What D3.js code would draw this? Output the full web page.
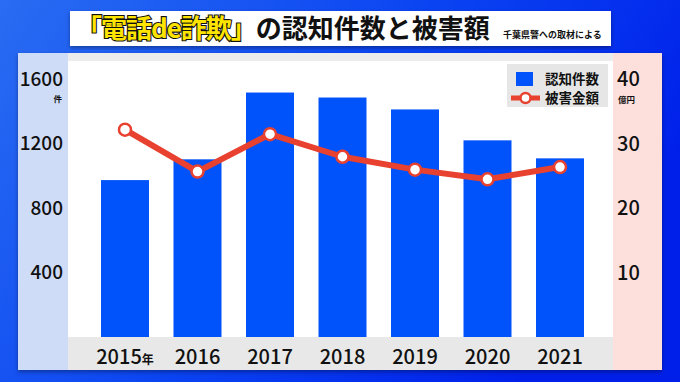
<!DOCTYPE html>
<html>
<head>
<meta charset="utf-8">
<script src="https://cdn.jsdelivr.net/npm/d3@7"></script>
<style>
  body { margin: 0; }
  svg { display: block; font-family: "Noto Sans CJK JP", "Noto Sans", sans-serif; }
</style>
</head>
<body>
<div id="vis"></div>
<script>
const w = 680;
const h = 382;

// data
const years = ['2015', '2016', '2017', '2018', '2019', '2020', '2021'];
const cases = [975, 1104, 1519, 1488, 1414, 1222, 1110];      // 認知件数 (件)
const damage = [32.2, 25.7, 31.5, 28.0, 26.0, 24.5, 26.4];    // 被害金額 (億円)
const leftTicks = [400, 800, 1200, 1600];
const rightTicks = [10, 20, 30, 40];

const panel = ({ left: 18, right: 662, top: 53, bottom: 370 });
const plot = ({ left: 68, right: 613, top: 61, bottom: 337 });

const svg = d3.select('#vis')
    .append('svg')
    .attr('width', w)
    .attr('height', h)

const defs = svg.append('defs');
const bg = defs.append('linearGradient').attr('id', 'bg')
    .attr('x1', 0).attr('y1', 0).attr('x2', 1).attr('y2', 0.4);
bg.append('stop').attr('offset', '0%').attr('stop-color', '#2a6cf2');
bg.append('stop').attr('offset', '55%').attr('stop-color', '#0a44f2');
bg.append('stop').attr('offset', '100%').attr('stop-color', '#0020ea');

const shadow = defs.append('filter').attr('id', 'shadow')
    .attr('x', '-5%').attr('y', '-5%').attr('width', '110%').attr('height', '115%');
shadow.append('feDropShadow').attr('dx', 0).attr('dy', 2).attr('stdDeviation', 2)
    .attr('flood-color', '#000').attr('flood-opacity', 0.35);

svg.append('rect').attr('width', w).attr('height', h).attr('fill', 'url(#bg)');

// title box
svg.append('rect')
    .attr('x', 70).attr('y', 11).attr('width', 541).attr('height', 35)
    .attr('fill', '#fff').attr('filter', 'url(#shadow)');

const title = svg.append('text')
    .attr('x', 76).attr('y', 38)
    .attr('font-size', '26px')
    .attr('font-weight', 'bold');
title.append('tspan')
    .text('「電話de詐欺」')
    .attr('fill', '#ffe400')
    .attr('stroke', '#111')
    .attr('stroke-width', 2.2)
    .attr('paint-order', 'stroke')
    .attr('letter-spacing', '-1px');
title.append('tspan').text('の認知件数と被害額').attr('fill', '#111');

svg.append('text')
    .attr('x', 503).attr('y', 38)
    .attr('font-size', '9px')
    .attr('font-weight', 'bold')
    .attr('fill', '#111')
    .text('千葉県警への取材による');

// chart panel
svg.append('rect')
    .attr('x', panel.left).attr('y', panel.top)
    .attr('width', panel.right - panel.left).attr('height', panel.bottom - panel.top)
    .attr('fill', '#fff').attr('filter', 'url(#shadow)');
svg.append('rect')
    .attr('x', panel.left).attr('y', panel.top)
    .attr('width', plot.left - panel.left).attr('height', panel.bottom - panel.top)
    .attr('fill', '#cfdcf7');
svg.append('rect')
    .attr('x', plot.right).attr('y', panel.top)
    .attr('width', panel.right - plot.right).attr('height', panel.bottom - panel.top)
    .attr('fill', '#fde0dc');
svg.append('rect')
    .attr('x', plot.left).attr('y', panel.top)
    .attr('width', plot.right - plot.left).attr('height', plot.top - panel.top)
    .attr('fill', '#ececec');
svg.append('rect')
    .attr('x', plot.left).attr('y', plot.bottom)
    .attr('width', plot.right - plot.left).attr('height', panel.bottom - plot.bottom)
    .attr('fill', '#e8e8e8');

let xScale = d3.scaleBand()
    .domain(years)
    .range([72, 613])
    .paddingInner(0.338)
    .paddingOuter(0.4);

let yLeft = d3.scaleLinear()
    .domain([0, 1600])
    .range([plot.bottom, 79.5]);

let yRight = d3.scaleLinear()
    .domain([0, 40])
    .range([plot.bottom, 79.5]);

// bars
svg.append('g')
    .selectAll('rect')
    .data(years)
    .join('rect')
    .attr('x', d => xScale(d))
    .attr('y', (d, i) => yLeft(cases[i]))
    .attr('width', xScale.bandwidth())
    .attr('height', (d, i) => plot.bottom - yLeft(cases[i]))
    .attr('fill', '#0052fa');

// damage line
const line = d3.line()
    .x((d, i) => xScale(years[i]) + xScale.bandwidth() / 2)
    .y(d => yRight(d));

svg.append('path')
    .datum(damage)
    .attr('d', line)
    .attr('fill', 'none')
    .attr('stroke', '#e8412f')
    .attr('stroke-width', 6)
    .attr('stroke-linejoin', 'round');

svg.append('g')
    .selectAll('circle')
    .data(damage)
    .join('circle')
    .attr('cx', (d, i) => xScale(years[i]) + xScale.bandwidth() / 2)
    .attr('cy', d => yRight(d))
    .attr('r', 6)
    .attr('fill', '#fff')
    .attr('stroke', '#e8412f')
    .attr('stroke-width', 2.5);

// axes
let xAxis = d3.axisBottom(xScale).tickSize(0).tickPadding(13);
let yAxisL = d3.axisLeft(yLeft).tickValues(leftTicks).tickFormat(d3.format('d'))
    .tickSize(0).tickPadding(0);
let yAxisR = d3.axisRight(yRight).tickValues(rightTicks).tickFormat(d3.format('d'))
    .tickSize(0).tickPadding(0);

const gx = svg.append('g')
    .attr('class', 'x axis')
    .attr('transform', 'translate(0, ' + plot.bottom + ')')
    .call(xAxis);
gx.select('.domain').remove();
gx.selectAll('.tick text')
    .attr('font-size', '20px')
    .attr('font-family', '"Noto Sans CJK JP", sans-serif')
    .attr('font-weight', 500)
    .attr('fill', '#111')
    .filter(d => d === years[0])
    .append('tspan')
    .text('年')
    .attr('font-size', '12px')
    .attr('font-weight', 'bold');

const gl = svg.append('g')
    .attr('class', 'y axis')
    .attr('transform', 'translate(63, 0)')
    .call(yAxisL);
gl.select('.domain').remove();
gl.selectAll('.tick text')
    .attr('font-size', '19px')
    .attr('font-family', '"Noto Sans CJK JP", sans-serif')
    .attr('font-weight', 500)
    .attr('fill', '#111');

const gr = svg.append('g')
    .attr('class', 'y axis')
    .attr('transform', 'translate(617, 0)')
    .call(yAxisR);
gr.select('.domain').remove();
gr.selectAll('.tick text')
    .attr('font-size', '20px')
    .attr('font-family', '"Noto Sans CJK JP", sans-serif')
    .attr('font-weight', 500)
    .attr('fill', '#111');

// unit labels
svg.append('text')
    .attr('x', 62).attr('y', yLeft(1600) + 22)
    .attr('text-anchor', 'end')
    .attr('font-size', '8.5px').attr('font-weight', 'bold').attr('fill', '#111')
    .text('件');
svg.append('text')
    .attr('x', 618).attr('y', yRight(40) + 23)
    .attr('font-size', '8.5px').attr('font-weight', 'bold').attr('fill', '#111')
    .text('億円');

// legend
const legend = svg.append('g');
legend.append('rect')
    .attr('x', 507).attr('y', 64).attr('width', 101).attr('height', 43)
    .attr('fill', '#e6e6e6');
legend.append('rect')
    .attr('x', 516).attr('y', 72).attr('width', 17).attr('height', 14)
    .attr('fill', '#0052fa');
legend.append('line')
    .attr('x1', 511).attr('x2', 540).attr('y1', 98).attr('y2', 98)
    .attr('stroke', '#e8412f').attr('stroke-width', 5);
legend.append('circle')
    .attr('cx', 525.5).attr('cy', 98).attr('r', 5)
    .attr('fill', '#fff').attr('stroke', '#e8412f').attr('stroke-width', 2.5);
legend.selectAll('.lbl')
    .data(['認知件数', '被害金額'])
    .join('text')
    .attr('x', 545)
    .attr('y', (d, i) => 84 + i * 19)
    .attr('font-size', '13.5px')
    .attr('font-weight', 'bold')
    .attr('fill', '#111')
    .text(d => d);
</script>
</body>
</html>
